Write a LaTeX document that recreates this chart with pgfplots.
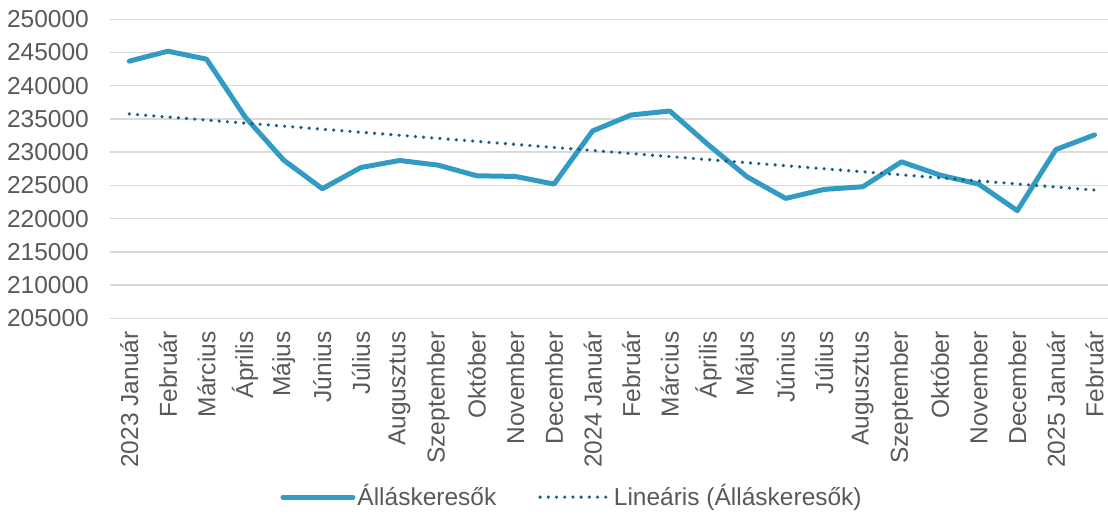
\documentclass[border=0pt]{standalone}
\usepackage{fontspec}
\setmainfont{Liberation Sans}
\usepackage{pgfplots}
\pgfplotsset{compat=1.18}
\definecolor{mainblue}{RGB}{49,155,196}
\definecolor{trendblue}{RGB}{28,94,128}
\definecolor{gridgray}{RGB}{217,217,217}
\definecolor{txtgray}{RGB}{89,89,89}
\begin{document}
\fontsize{24.5bp}{28bp}\selectfont
\begin{tikzpicture}
\path[use as bounding box] (-110bp,-198.7bp) rectangle (998bp,318.3bp);
\begin{axis}[
  at={(0,0)}, anchor=south west,
  scale only axis,
  width=998bp, height=299bp,
  xmin=-0.5, xmax=25.35,
  ymin=205000, ymax=250000,
  ytick={205000,210000,...,250000},
  xtick={0,...,25},
  xticklabels={2023 Január,Február,Március,Április,Május,Június,Július,Augusztus,Szeptember,Október,November,December,2024 Január,Február,Március,Április,Május,Június,Július,Augusztus,Szeptember,Október,November,December,2025 Január,Február},
  scaled y ticks=false,
  /pgf/number format/.cd, use comma, 1000 sep={}, assume math mode=true,
  /pgfplots/.cd,
  yticklabel style={/pgf/number format/fixed, inner sep=0pt, anchor=east, xshift=-21bp, text=txtgray, font=\fontsize{24.5bp}{28bp}\selectfont},
  xticklabel style={rotate=90, anchor=east, inner sep=0pt, xshift=-13bp, text=txtgray, font=\fontsize{24.5bp}{28bp}\selectfont},
  axis line style={draw=none},
  major tick length=0pt,
  ymajorgrids,
  grid style={gridgray, line width=1.4bp},
  clip=false,
  legend columns=2,
  legend style={draw=none, fill=none, at={(0.463,-0.598)}, anchor=center, font=\fontsize{24.5bp}{28bp}\selectfont, text=txtgray,
    /tikz/every even column/.append style={column sep=40bp}, inner sep=0pt},
  legend cell align=left,
  legend image code/.code={\draw[#1] (0bp,0bp) -- (70bp,0bp);},
]
\addplot[mainblue, line width=5bp, line cap=round, line join=round]
coordinates {
(0,243700) (1,245200) (2,244000) (3,235300) (4,228800) (5,224500)
(6,227700) (7,228750) (8,228050) (9,226450) (10,226350) (11,225200)
(12,233200) (13,235600) (14,236200) (15,231100) (16,226300) (17,223050)
(18,224400) (19,224800) (20,228550) (21,226550) (22,225200) (23,221200)
(24,230400) (25,232600)
};
\addlegendentry{Álláskeresők}
\addplot[trendblue, line width=3.6bp, line cap=round, dash pattern=on 0bp off 8.2bp]
coordinates {(0,235750) (25,224300)};
\addlegendentry{Lineáris (Álláskeresők)}
\end{axis}
\end{tikzpicture}
\end{document}
